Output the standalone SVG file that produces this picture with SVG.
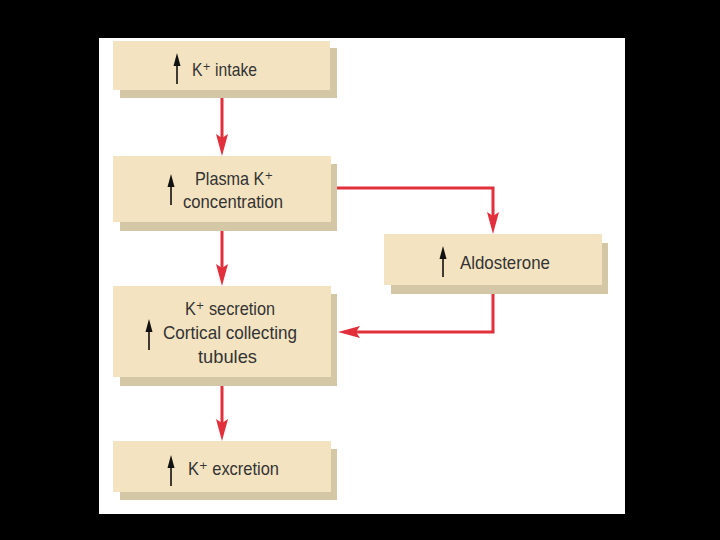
<svg xmlns="http://www.w3.org/2000/svg" width="720" height="540" viewBox="0 0 720 540">
<style>
.box{fill:#f3e3c1}
.sh{fill:#d3c7a6}
.t{font-family:"Liberation Sans","DejaVu Sans",Arial,sans-serif;font-size:19px;fill:#333}
.up{stroke:#111;stroke-width:1.6;fill:none}
.uph{fill:#111}
.con{fill:none;stroke:#e1303b;stroke-width:3;marker-end:url(#ah)}
</style>
<defs>
<marker id="ah" markerUnits="userSpaceOnUse" markerWidth="24" markerHeight="14" refX="10" refY="6" orient="auto">
<path d="M0,0 L22,6 L0,12 L4,6 Z" fill="#e1303b"/>
</marker>
<g id="uparrow">
<line class="up" x1="0" y1="8" x2="0" y2="31"/>
<path class="uph" d="M0,0 L3.5,13 L-3.5,13 Z"/>
</g>
</defs>
<rect x="0" y="0" width="720" height="540" fill="#000"/>
<rect x="99" y="38" width="526" height="476" fill="#fff"/>

<g id="connectors">
<path class="con" d="M222,90 L222,144"/>
<path class="con" d="M222,222 L222,274"/>
<path class="con" d="M222,377 L222,429"/>
<path class="con" d="M331,188 L493,188 L493,222"/>
<path class="con" d="M493,285 L493,332 L350,332"/>
</g>

<g id="n1">
<rect class="sh" x="120" y="48" width="217" height="50"/>
<rect class="box" x="113" y="41" width="217" height="49"/>
<use href="#uparrow" x="177" y="53"/>
<text class="t" x="192" y="76" textLength="65" lengthAdjust="spacingAndGlyphs">K⁺ intake</text>
</g>

<g id="n2">
<rect class="sh" x="120" y="164" width="217" height="67"/>
<rect class="box" x="113" y="156" width="218" height="66"/>
<use href="#uparrow" x="171" y="174"/>
<text class="t" x="195" y="185" textLength="78" lengthAdjust="spacingAndGlyphs">Plasma K⁺</text>
<text class="t" x="183" y="208" textLength="100" lengthAdjust="spacingAndGlyphs">concentration</text>
</g>

<g id="n3">
<rect class="sh" x="391" y="243" width="217" height="51"/>
<rect class="box" x="384" y="234" width="218" height="51"/>
<use href="#uparrow" x="443" y="246"/>
<text class="t" x="460" y="269" textLength="90" lengthAdjust="spacingAndGlyphs">Aldosterone</text>
</g>

<g id="n4">
<rect class="sh" x="120" y="294" width="217" height="92"/>
<rect class="box" x="113" y="286" width="218" height="91"/>
<use href="#uparrow" x="149" y="319"/>
<text class="t" x="185" y="315" textLength="90" lengthAdjust="spacingAndGlyphs">K⁺ secretion</text>
<text class="t" x="163" y="339" textLength="134" lengthAdjust="spacingAndGlyphs">Cortical collecting</text>
<text class="t" x="198" y="363" textLength="59" lengthAdjust="spacingAndGlyphs">tubules</text>
</g>

<g id="n5">
<rect class="sh" x="120" y="449" width="217" height="51"/>
<rect class="box" x="113" y="441" width="218" height="51"/>
<use href="#uparrow" x="171" y="455"/>
<text class="t" x="188" y="475" textLength="91" lengthAdjust="spacingAndGlyphs">K⁺ excretion</text>
</g>
</svg>
